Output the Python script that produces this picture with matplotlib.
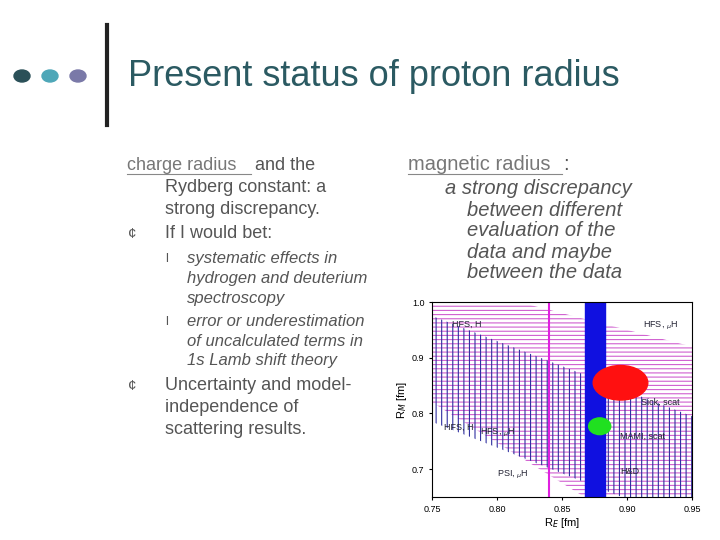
import matplotlib
matplotlib.use("Agg")
import matplotlib.pyplot as plt
from matplotlib.patches import Ellipse, Circle
import numpy as np

plt.rcParams['font.family'] = ['Liberation Sans', 'DejaVu Sans']
plt.rcParams['hatch.linewidth'] = 0.8

# data
x_ends = [0.75, 0.95]
hfs_h_upper = [0.975, 0.795]
hfs_h_lower = [0.785, 0.60]
hfs_muh_upper = [1.04, 0.92]
hfs_muh_lower = [0.82, 0.53]
psi_muh = 0.84
hd_band = [0.868, 0.883]
sick = (0.895, 0.855, 0.042, 0.062)
mami = (0.879, 0.777, 0.017, 0.03)
labels = [("HFS, H", 0.765, 0.955), ("HFS, $_\\mu$H", 0.912, 0.955), ("Sick, scat", 0.911, 0.815),
          ("HFS, H", 0.759, 0.77), ("HFS, $_\\mu$H", 0.787, 0.762), ("MAMI, scat", 0.895, 0.755),
          ("PSI, $_\\mu$H", 0.8, 0.687), ("H&D", 0.895, 0.691)]

fig = plt.figure(figsize=(7.2, 5.4), dpi=100)
W, H = 720, 540
def T(x, y, s, **kw):
    fig.text(x / W, 1 - y / H, s, **kw)

for cx, c in [(22, "#2a5058"), (50, "#4ea7b8"), (78, "#7a79a8")]:
    fig.patches.append(Circle((cx / W, 1 - 76 / H), 8 / W, transform=fig.transFigure, color=c))
fig.add_artist(plt.Line2D([107 / W, 107 / W], [1 - 25 / H, 1 - 125 / H], color="#222", lw=3))
T(128, 76, "Present status of proton radius", fontsize=26, color="#2b5a62", va="center")

g = "#555555"
T(127, 165, "charge radius", fontsize=13, color="#777", va="center")
T(255, 165, "and the", fontsize=13, color=g, va="center")
fig.add_artist(plt.Line2D([127 / W, 251 / W], [1 - 174 / H] * 2, color="#888", lw=0.8))
for i, s in enumerate(["Rydberg constant: a", "strong discrepancy.", "If I would bet:"]):
    T(165, 187 + 23 * i, s, fontsize=13, color=g, va="center")
T(128, 234, "¢", fontsize=11, color=g, va="center")
T(165, 259, "l", fontsize=9, color=g, va="center")
for i, s in enumerate(["systematic effects in", "hydrogen and deuterium", "spectroscopy"]):
    T(187, 259 + 19.5 * i, s, fontsize=12, color=g, style="italic", va="center")
T(165, 322, "l", fontsize=9, color=g, va="center")
for i, s in enumerate(["error or underestimation", "of uncalculated terms in", "1s Lamb shift theory"]):
    T(187, 322 + 19 * i, s, fontsize=12, color=g, style="italic", va="center")
T(128, 386, "¢", fontsize=11, color=g, va="center")
for i, s in enumerate(["Uncertainty and model-", "independence of", "scattering results."]):
    T(165, 386 + 21.5 * i, s, fontsize=13, color=g, va="center")

T(408, 164, "magnetic radius", fontsize=14.5, color="#777", va="center")
T(563, 164, ":", fontsize=14.5, color=g, va="center")
fig.add_artist(plt.Line2D([408 / W, 562 / W], [1 - 174 / H] * 2, color="#888", lw=0.8))
T(445, 189, "a strong discrepancy", fontsize=14.5, color=g, style="italic", va="center")
for i, s in enumerate(["between different", "evaluation of the", "data and maybe", "between the data"]):
    T(467, 210 + 21 * i, s, fontsize=14.5, color=g, style="italic", va="center")

ax = fig.add_axes([432 / W, 1 - 497 / H, 260 / W, 195 / H])
ax.set_xlim(0.75, 0.95); ax.set_ylim(0.65, 1.0)
xs = np.array(x_ends)
ax.fill_between(xs, hfs_muh_lower, hfs_muh_upper, facecolor="none", edgecolor="#d060d0", hatch="----", lw=0)
ax.fill_between(xs, hfs_h_lower, hfs_h_upper, facecolor="none", edgecolor="#3030a0", hatch="|||", lw=0)
ax.axvline(psi_muh, color="#e020e0", lw=1.5)
ax.axvspan(hd_band[0], hd_band[1], color="#1010e0")
ax.add_patch(Ellipse(sick[:2], sick[2], sick[3], color="#ff1010"))
ax.add_patch(Ellipse(mami[:2], mami[2], mami[3], color="#20e020"))
for s, x, y in labels:
    ax.text(x, y, s, fontsize=6.5, color="#223")
ax.set_xticks([0.75, 0.80, 0.85, 0.90, 0.95])
ax.set_xticklabels(["0.75", "0.80", "0.85", "0.90", "0.95"])
ax.set_yticks([0.7, 0.8, 0.9, 1.0])
ax.tick_params(labelsize=6.5, length=2)
ax.set_xlabel("R$_E$ [fm]", fontsize=8, labelpad=2)
ax.set_ylabel("R$_M$ [fm]", fontsize=8, labelpad=2)
fig.savefig("out.png", dpi=100)
